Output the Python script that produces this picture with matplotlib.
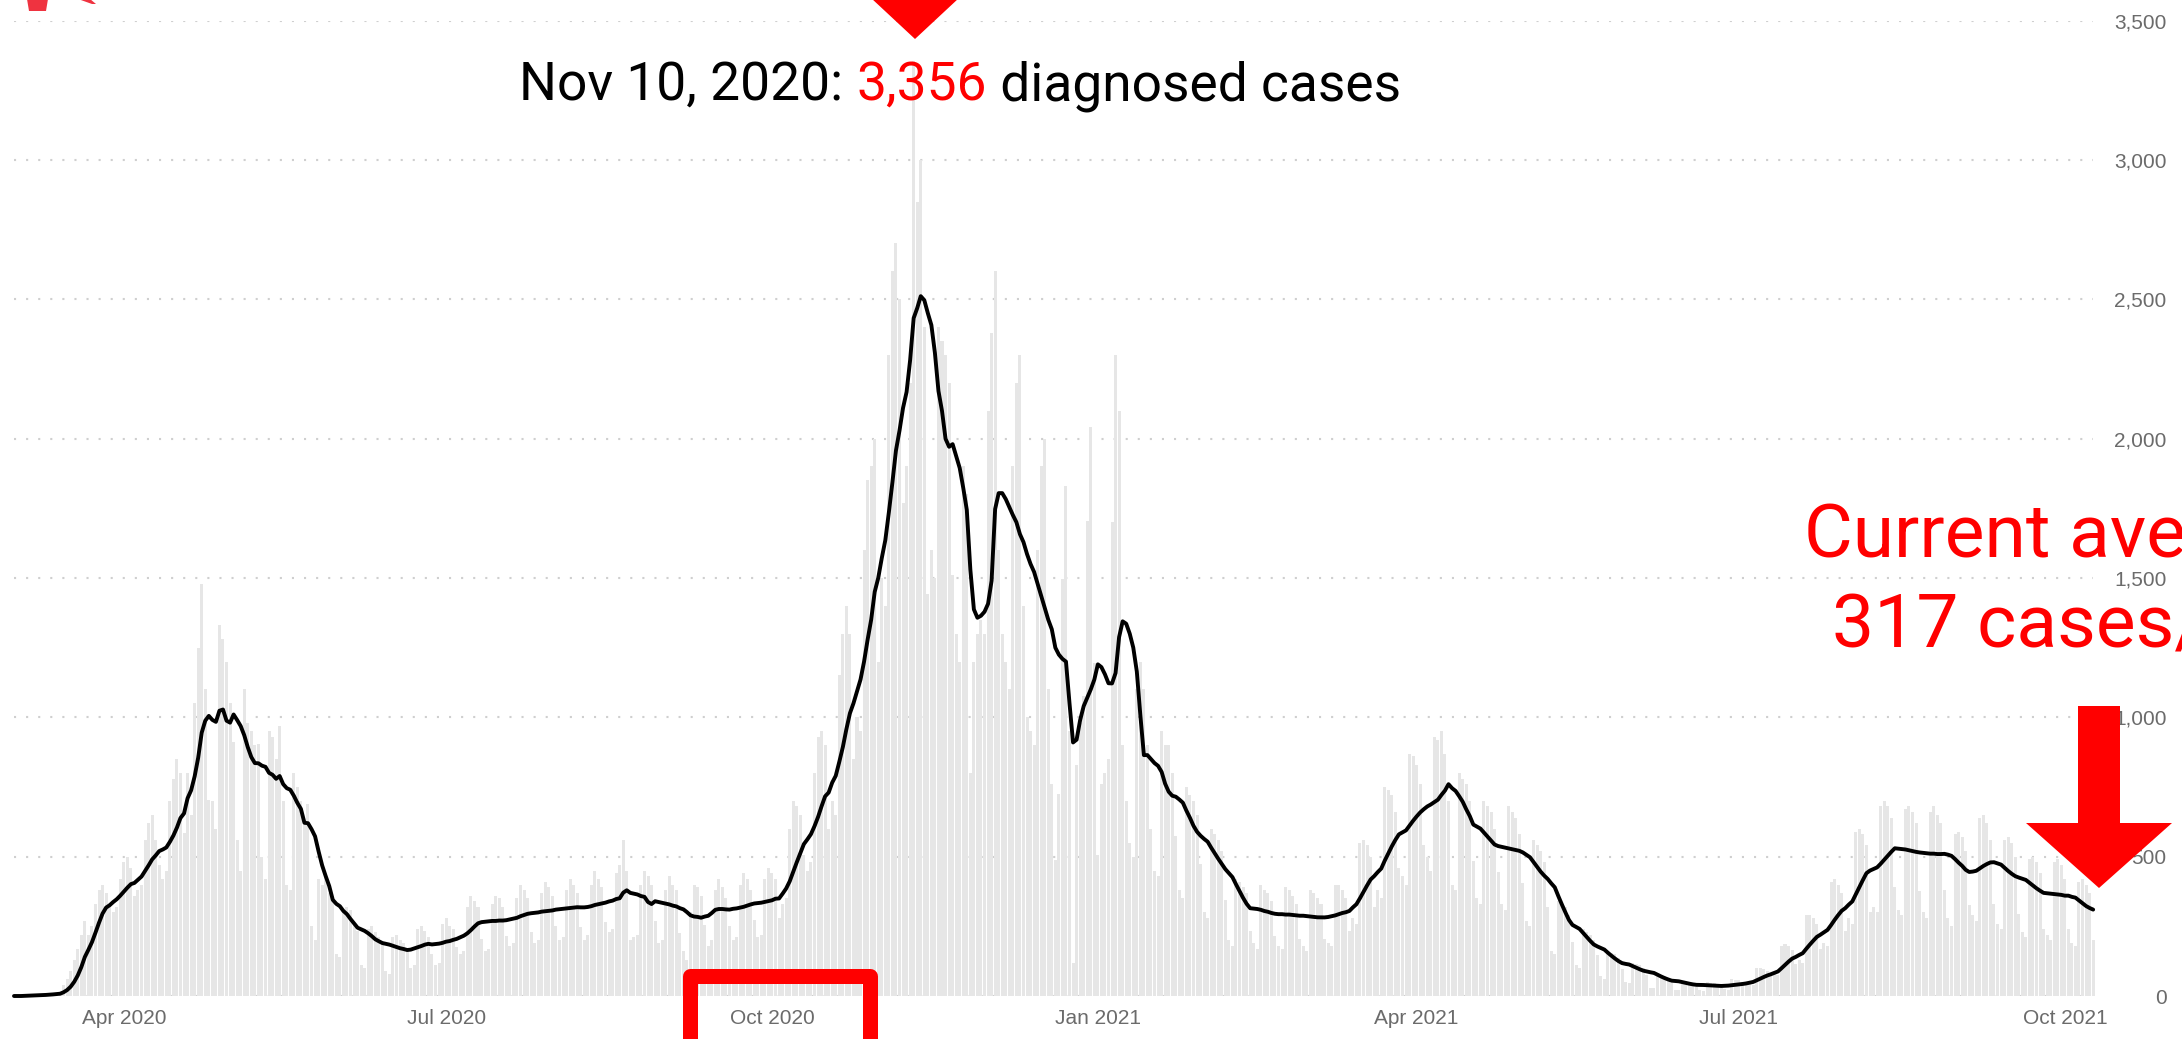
import numpy as np
import pandas as pd
import matplotlib
matplotlib.use("Agg")
import matplotlib.pyplot as plt
import matplotlib.dates as mdates
from matplotlib.patches import Polygon, Rectangle

W, H = 2182, 1039
START = "2020-03-01"

# daily diagnosed cases, one row per week (Sun..Sat), starting Mar 1, 2020
daily_cases = [
    0, 0, 0, 2, 3, 4, 5,
    3, 4, 6, 8, 10, 12, 14,
    40, 60, 90, 130, 170, 220, 270,
    220, 250, 330, 380, 400, 370, 330,
    300, 320, 420, 480, 500, 460, 360,
    380, 400, 560, 620, 650, 560, 470,
    420, 450, 700, 780, 850, 800, 585,
    800, 650, 1050, 1250, 1480, 1100, 705,
    700, 600, 1330, 1280, 1200, 1050, 910,
    560, 450, 1100, 980, 950, 900, 905,
    500, 420, 950, 930, 850, 970, 700,
    400, 380, 800, 750, 700, 620, 690,
    250, 200, 420, 400, 430, 370, 345,
    150, 140, 300, 320, 310, 260, 235,
    110, 100, 240, 250, 230, 210, 190,
    90, 80, 210, 220, 200, 190, 165,
    100, 110, 240, 250, 235, 210, 150,
    110, 120, 260, 280, 250, 240, 175,
    150, 160, 320, 360, 340, 320, 205,
    160, 170, 330, 360, 350, 320, 214,
    180, 190, 350, 400, 380, 350, 229,
    190, 200, 370, 410, 390, 360, 250,
    200, 210, 380, 420, 400, 370, 246,
    200, 220, 400, 450, 420, 390, 265,
    230, 240, 440, 470, 560, 450, 200,
    210, 220, 400, 450, 430, 400, 270,
    190, 200, 380, 430, 400, 380, 226,
    160, 130, 300, 400, 390, 360, 255,
    180, 200, 380, 420, 390, 350, 250,
    200, 210, 400, 440, 420, 380, 274,
    210, 220, 420, 460, 440, 420, 280,
    330, 350, 600, 700, 680, 650, 505,
    450, 480, 800, 930, 950, 900, 600,
    700, 650, 1150, 1300, 1400, 1300, 850,
    1000, 950, 1600, 1850, 1900, 2000, 1200,
    1500, 1400, 2300, 2600, 2700, 2500, 1770,
    1900, 2200, 3356, 2850, 3000, 2400, 1444,
    1600, 1500, 2400, 2350, 2300, 2200, 1510,
    1300, 1200, 1900, 1800, 800, 1200, 1300,
    1350, 1300, 2100, 2380, 2600, 1600, 1300,
    1200, 1100, 1900, 2200, 2300, 1400, 1000,
    950, 900, 1600, 1900, 2000, 1100, 760,
    488, 725, 1495, 1830, 950, 120, 830,
    980, 1075, 1705, 2040, 1195, 505, 760,
    800, 850, 1700, 2300, 2100, 900, 700,
    550, 500, 1100, 1200, 1100, 900, 600,
    450, 430, 950, 900, 900, 800, 575,
    380, 350, 750, 720, 700, 650, 475,
    300, 280, 600, 580, 560, 520, 345,
    200, 180, 420, 410, 390, 370, 235,
    190, 170, 400, 380, 370, 340, 215,
    180, 170, 390, 380, 360, 330, 206,
    180, 160, 380, 370, 350, 330, 204,
    190, 180, 400, 400, 380, 350, 235,
    280, 260, 550, 560, 540, 500, 320,
    380, 350, 750, 740, 720, 660, 460,
    430, 400, 870, 860, 830, 760, 540,
    500, 450, 930, 920, 950, 870, 700,
    400, 380, 800, 780, 760, 700, 485,
    350, 330, 700, 680, 660, 600, 446,
    330, 310, 680, 660, 640, 580, 405,
    270, 250, 560, 540, 520, 480, 320,
    160, 150, 340, 330, 320, 290, 195,
    110, 100, 240, 230, 220, 200, 146,
    70, 60, 160, 155, 150, 135, 96,
    50, 45, 120, 115, 110, 100, 76,
    30, 28, 75, 72, 70, 65, 45,
    22, 20, 55, 52, 50, 48, 33,
    20, 18, 50, 48, 45, 42, 29,
    25, 22, 60, 58, 56, 52, 42,
    45, 40, 100, 100, 98, 90, 73,
    80, 75, 180, 185, 180, 165, 115,
    130, 120, 290, 290, 280, 260, 170,
    190, 180, 410, 420, 400, 370, 235,
    280, 260, 590, 600, 580, 540, 300,
    320, 300, 680, 700, 680, 640, 390,
    310, 290, 670, 680, 660, 620, 375,
    300, 280, 660, 680, 650, 620, 380,
    280, 250, 580, 590, 570, 520, 325,
    290, 270, 640, 650, 620, 560, 330,
    260, 240, 560, 570, 550, 500, 295,
    230, 210, 490, 500, 480, 440, 240,
    220, 200, 480, 490, 470, 420, 240,
    190, 180, 410, 420, 400, 370, 200,
]

y_ticks = [0, 500, 1000, 1500, 2000, 2500, 3000, 3500]
y_tick_labels = ["0", "500", "1,000", "1,500", "2,000", "2,500", "3,000", "3,500"]
x_tick_dates = ["2020-04-01", "2020-07-01", "2020-10-01", "2021-01-01",
                "2021-04-01", "2021-07-01", "2021-10-01"]
x_tick_labels = ["Apr 2020", "Jul 2020", "Oct 2020", "Jan 2021",
                 "Apr 2021", "Jul 2021", "Oct 2021"]
peak_date_text = "Nov 10, 2020: "
peak_value_text = "3,356"
peak_suffix_text = " diagnosed cases"
current_lines = ["Current average:", "317 cases/day"]

dates = pd.date_range(START, periods=len(daily_cases), freq="D")
avg7 = pd.Series(daily_cases, index=dates).rolling(7, min_periods=1).mean()

fig = plt.figure(figsize=(W / 100, H / 100), dpi=100)
fig.patch.set_facecolor("white")

# axes placed in pixel geometry of reference
x0, x1 = 14, 2093
y_zero, y_top = 996, 20.5
ax = fig.add_axes([x0 / W, (H - y_zero) / H, (x1 - x0) / W, (y_zero - y_top) / H])
d0 = mdates.date2num(pd.Timestamp(START))
ax.set_xlim(d0, d0 + (x1 - x0) / 3.542)
ax.set_ylim(0, 3500)
for s in ax.spines.values():
    s.set_visible(False)

ax.bar(dates, daily_cases, width=0.85, color="#e6e6e6", zorder=1, clip_on=False,
       linewidth=0)
ax.plot(dates, avg7.values, color="black", lw=2.8, zorder=3,
        solid_joinstyle="round", solid_capstyle="round", clip_on=False)

ax.set_yticks(y_ticks)
ax.set_yticklabels(y_tick_labels)
ax.yaxis.tick_right()
ax.tick_params(axis="y", length=0, pad=53, labelsize=15, labelcolor="#6b6b6b")
for lab in ax.get_yticklabels():
    lab.set_horizontalalignment("right")
    lab.set_fontfamily("Liberation Sans")

ax.set_xticks([mdates.date2num(pd.Timestamp(d)) for d in x_tick_dates])
ax.set_xticklabels(x_tick_labels)
ax.tick_params(axis="x", length=0, pad=9, labelsize=15, labelcolor="#6b6b6b")
for lab in ax.get_xticklabels():
    lab.set_fontfamily("Liberation Sans")

ax.set_axisbelow(True)
ax.yaxis.grid(True, color="#cfcfcf", linestyle=(0, (1, 4.8)), linewidth=1.5)
ax.xaxis.grid(False)


def fx(x):
    return x / W


def fy(y):
    return 1 - y / H


# Peak annotation text (multi-colour)
renderer = fig.canvas.get_renderer()
tx, ty = 519, 100
parts = [(peak_date_text, "black"), (peak_value_text, "#ff0000"), (peak_suffix_text, "black")]
cur = fx(tx)
for txt, col in parts:
    t = fig.text(cur, fy(ty), txt, color=col, fontsize=38.3, family="Roboto",
                 ha="left", va="baseline")
    bb = t.get_window_extent(renderer=renderer)
    cur = bb.x1 / W

# red triangle at top (peak marker)
fig.add_artist(Polygon([(fx(871), fy(-2)), (fx(959), fy(-2)), (fx(915), fy(39))],
                       closed=True, transform=fig.transFigure, facecolor="#ff0000",
                       edgecolor="none", zorder=5))

# red fragments at top-left
fig.add_artist(Polygon([(fx(27), fy(-1)), (fx(48), fy(-1)), (fx(46), fy(11)), (fx(29), fy(11))],
                       closed=True, transform=fig.transFigure, facecolor="#ef3340",
                       edgecolor="none", zorder=5))
fig.add_artist(Polygon([(fx(78), fy(-1)), (fx(90), fy(-1)), (fx(96), fy(4)), (fx(92), fy(4))],
                       closed=True, transform=fig.transFigure, facecolor="#ef3340",
                       edgecolor="none", zorder=5))

# current-average annotation
fig.text(fx(2078), fy(557), current_lines[0], color="#ff0000", fontsize=54,
         family="Roboto", ha="center", va="baseline", zorder=6)
fig.text(fx(2078), fy(647), current_lines[1], color="#ff0000", fontsize=54,
         family="Roboto", ha="center", va="baseline", zorder=6)

# big red arrow bottom-right
arrow_pts = [(2078, 706), (2120, 706), (2120, 823), (2172, 823), (2099, 888),
             (2026, 823), (2078, 823)]
fig.add_artist(Polygon([(fx(a), fy(b)) for a, b in arrow_pts], closed=True,
                       transform=fig.transFigure, facecolor="#ff0000",
                       edgecolor="none", zorder=5))

# red highlight box around Oct 2020 label
fig.add_artist(Rectangle((fx(689.5), fy(1070)), fx(869.5) - fx(689.5), fy(975.5) - fy(1070),
                         transform=fig.transFigure, facecolor="none", edgecolor="#ff0000",
                         linewidth=10.8, joinstyle="round", zorder=5))

fig.savefig("out.png", dpi=100, facecolor="white")
